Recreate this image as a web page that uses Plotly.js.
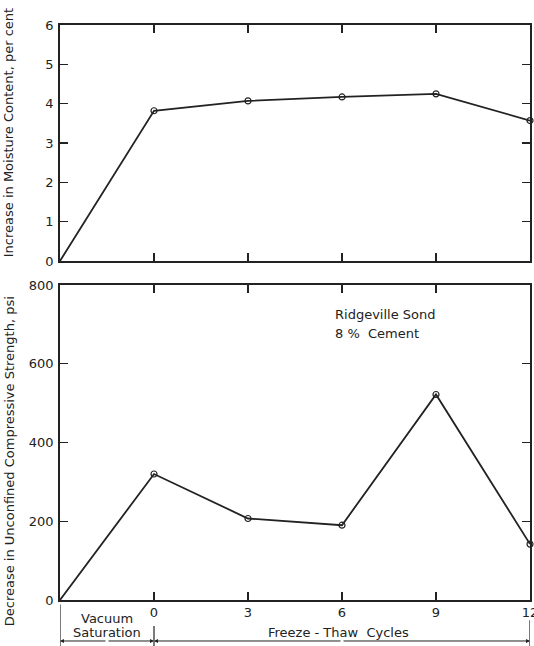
<!DOCTYPE html>
<html>
<head>
<meta charset="utf-8">
<script src="https://cdn.plot.ly/plotly-3.0.1.min.js"></script>
<style>html,body{margin:0;padding:0;background:#fff;}#chart{width:534px;height:646px;}</style>
</head>
<body>
<div id="chart"></div>
<script>
// x positions: -3 = start of vacuum saturation, 0..12 = freeze-thaw cycles
const cycles = [-3, 0, 3, 6, 9, 12];
const moistureIncrease = [0, 3.82, 4.07, 4.17, 4.25, 3.57];
const strengthDecrease = [0, 320, 207, 190, 522, 142];
const xTickVals = [0, 3, 6, 9, 12];
const xTickText = ['0', '3', '6', '9', '12'];
const moistureTicks = [0, 1, 2, 3, 4, 5, 6];
const strengthTicks = [0, 200, 400, 600, 800];

const ink = '#222';
const fam = 'DejaVu Sans, sans-serif';
const font = {family: fam, size: 13, color: ink};

const lineStyle = {color: ink, width: 1.8};
const markerStyle = {symbol: 'circle-open', size: 6, opacity: [0, 1, 1, 1, 1, 1], color: ink, line: {width: 1.2, color: ink}};

const traces = [
  {x: cycles, y: moistureIncrease, xaxis: 'x', yaxis: 'y', mode: 'lines+markers',
   line: lineStyle, marker: markerStyle, cliponaxis: false, hoverinfo: 'x+y'},
  {x: cycles, y: strengthDecrease, xaxis: 'x2', yaxis: 'y2', mode: 'lines+markers',
   line: lineStyle, marker: markerStyle, cliponaxis: false, hoverinfo: 'x+y'}
];

const commonX = {
  range: [-3, 12], tickvals: xTickVals, ticktext: xTickText, ticks: 'inside', ticklen: 8,
  tickcolor: ink, tickwidth: 1.3, showline: true, linecolor: ink, linewidth: 1.8, mirror: 'ticks',
  showgrid: false, zeroline: false, fixedrange: true, ticklabeloverflow: 'allow'
};
const commonY = {
  ticks: 'inside', ticklen: 8, tickcolor: ink, tickwidth: 1.3, showline: true, linecolor: ink,
  linewidth: 1.8, mirror: 'ticks', showgrid: false, zeroline: false, fixedrange: true,
  ticklabelstandoff: 2
};

const yArrow = -0.0713;
const layout = {
  width: 534, height: 646,
  margin: {l: 60, r: 4, t: 25, b: 46},
  paper_bgcolor: '#fff', plot_bgcolor: '#fff',
  font: font, showlegend: false,
  xaxis: Object.assign({}, commonX, {domain: [0, 1], anchor: 'y', showticklabels: false}),
  yaxis: Object.assign({}, commonY, {domain: [0.5896, 1], anchor: 'x', range: [0, 6], tickvals: moistureTicks}),
  xaxis2: Object.assign({}, commonX, {domain: [0, 1], anchor: 'y2', showticklabels: true, ticklabelstandoff: 0}),
  yaxis2: Object.assign({}, commonY, {domain: [0, 0.5478], anchor: 'x2', range: [0, 800], tickvals: strengthTicks}),
  annotations: [
    {xref: 'paper', yref: 'paper', x: -0.108, y: 0.8122, text: 'Increase in Moisture Content, per cent', textangle: -90, showarrow: false, xanchor: 'center', yanchor: 'middle', font: {family: fam, size: 13, color: ink}},
    {xref: 'paper', yref: 'paper', x: -0.108, y: 0.2417, text: 'Decrease in Unconfined Compressive Strength, psi', textangle: -90, showarrow: false, xanchor: 'center', yanchor: 'middle', font: {family: fam, size: 13, color: ink}},
    {xref: 'x2', yref: 'y2', x: 5.7, y: 724, text: 'Ridgeville Sond', showarrow: false, xanchor: 'left', yanchor: 'middle', font: {family: fam, size: 13, color: ink}},
    {xref: 'x2', yref: 'y2', x: 5.7, y: 678, text: '8 %  Cement', showarrow: false, xanchor: 'left', yanchor: 'middle', font: {family: fam, size: 13, color: ink}},
    {xref: 'x2', yref: 'paper', x: -1.5, y: -0.032, text: 'Vacuum', showarrow: false, yanchor: 'middle', font: {family: fam, size: 13, color: ink}},
    {xref: 'x2', yref: 'paper', x: -1.5, y: yArrow + 0.014, text: 'Saturation', showarrow: false, yanchor: 'middle', font: {family: fam, size: 13, color: ink}},
    {xref: 'x2', yref: 'paper', x: 5.9, y: yArrow + 0.014, text: 'Freeze - Thaw  Cycles', showarrow: false, yanchor: 'middle', font: {family: fam, size: 13, color: ink}},
    {xref: 'x2', yref: 'paper', x: -3, y: yArrow, axref: 'x2', ax: -1.5, ayref: 'pixel', ay: 0, text: '', showarrow: true, arrowhead: 2, arrowsize: 0.8, arrowwidth: 1, arrowcolor: ink},
    {xref: 'x2', yref: 'paper', x: 0, y: yArrow, axref: 'x2', ax: -1.5, ayref: 'pixel', ay: 0, text: '', showarrow: true, arrowhead: 2, arrowsize: 0.8, arrowwidth: 1, arrowcolor: ink},
    {xref: 'x2', yref: 'paper', x: 0, y: yArrow, axref: 'x2', ax: 6, ayref: 'pixel', ay: 0, text: '', showarrow: true, arrowhead: 2, arrowsize: 0.8, arrowwidth: 1, arrowcolor: ink},
    {xref: 'x2', yref: 'paper', x: 12, y: yArrow, axref: 'x2', ax: 6, ayref: 'pixel', ay: 0, text: '', showarrow: true, arrowhead: 2, arrowsize: 0.8, arrowwidth: 1, arrowcolor: ink}
  ],
  shapes: [
    {type: 'line', xref: 'x2', yref: 'paper', x0: -3, x1: -3, y0: -0.008, y1: -0.08, line: {color: ink, width: 1.2}},
    {type: 'line', xref: 'x2', yref: 'paper', x0: 0, x1: 0, y0: -0.045, y1: -0.08, line: {color: ink, width: 1.2}},
    {type: 'line', xref: 'x2', yref: 'paper', x0: 12, x1: 12, y0: -0.035, y1: -0.08, line: {color: ink, width: 1.2}}
  ]
};

Plotly.newPlot('chart', traces, layout, {staticPlot: true, displayModeBar: false});
</script>
</body>
</html>
